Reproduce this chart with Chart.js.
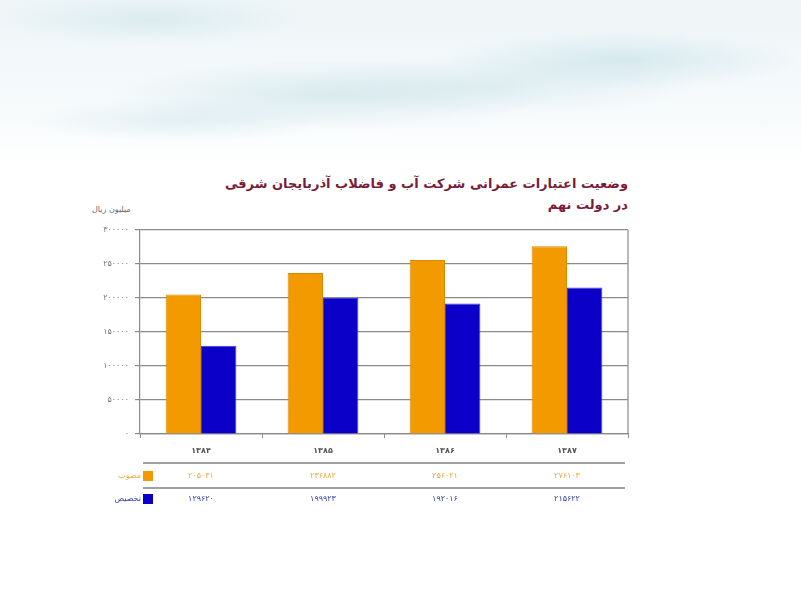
<!DOCTYPE html>
<html>
<head>
<meta charset="utf-8">
<script src="https://cdn.jsdelivr.net/npm/chart.js@4.4.0/dist/chart.umd.min.js"></script>
<style>
  html, body { margin: 0; padding: 0; }
  body {
    width: 801px; height: 600px; position: relative; overflow: hidden;
    font-family: "DejaVu Sans", sans-serif;
    background:
      radial-gradient(ellipse 180px 30px at 620px 60px, rgba(190,220,228,0.55), rgba(255,255,255,0)),
      radial-gradient(ellipse 220px 35px at 330px 95px, rgba(195,222,228,0.55), rgba(255,255,255,0)),
      radial-gradient(ellipse 160px 25px at 150px 20px, rgba(200,225,232,0.5), rgba(255,255,255,0)),
      radial-gradient(ellipse 200px 30px at 500px 85px, rgba(200,225,232,0.45), rgba(255,255,255,0)),
      radial-gradient(ellipse 150px 22px at 180px 120px, rgba(200,225,232,0.45), rgba(255,255,255,0)),
      linear-gradient(to bottom, #eef5f7 0px, #f8fbfc 120px, #ffffff 170px);
  }
  #wrap { position: absolute; left: 0; top: 0; width: 801px; height: 600px; }
  .title {
    position: absolute; right: 173px; top: 173px; direction: rtl; text-align: right;
    color: #7a1c36; font-weight: bold; font-size: 13px; line-height: 21px;
  }
  .unit {
    position: absolute; left: 92px; top: 205px; direction: rtl;
    color: #666; font-size: 8px;
  }
</style>
</head>
<body>
<div class="title">وضعیت اعتبارات عمرانی شرکت آب و فاضلاب آذربایجان شرقی<br>در دولت نهم</div>
<div class="unit">میلیون ریال</div>
<div id="wrap"><canvas id="chart" width="801" height="600"></canvas></div>
<script>
const years = ['1384', '1385', '1386', '1387'];
const approved = [205031, 236882, 256021, 276103];
const allocated = [129620, 199923, 192016, 215622];
const seriesNames = ['مصوب', 'تخصیص'];
const yTicks = [0, 50000, 100000, 150000, 200000, 250000, 300000];

const orange = '#F39A00';
const blue = '#0B00C8';

function toFa(v) {
    return String(v).replace(/[0-9]/g, d => '۰۱۲۳۴۵۶۷۸۹'[d]);
}

// plot frame + data table under the chart
const tablePlugin = {
    id: 'table',
    afterDraw(chart) {
        const ctx = chart.ctx;
        const a = chart.chartArea;
        const x = chart.scales.x;
        ctx.save();
        ctx.strokeStyle = '#8a8a8a';
        ctx.lineWidth = 1.2;
        ctx.beginPath();
        ctx.moveTo(a.right, a.top);
        ctx.lineTo(a.right, a.bottom);
        ctx.stroke();

        ctx.strokeStyle = '#a0a0a0';
        ctx.lineWidth = 2;
        [463, 488].forEach(y => {
            ctx.beginPath();
            ctx.moveTo(a.left + 3, y);
            ctx.lineTo(a.right - 3, y);
            ctx.stroke();
        });

        const rows = [
            { vals: approved, color: orange, text: '#F0A838', y: 476 },
            { vals: allocated, color: blue, text: '#3040A8', y: 499 }
        ];
        ctx.font = '8px "DejaVu Sans"';
        ctx.textBaseline = 'middle';
        rows.forEach((r, i) => {
            ctx.fillStyle = r.color;
            ctx.fillRect(a.left + 3, r.y - 5, 10, 10);
            ctx.fillStyle = r.text;
            ctx.textAlign = 'right';
            ctx.fillText(seriesNames[i], a.left + 1, r.y);
            ctx.textAlign = 'center';
            r.vals.forEach((v, j) => {
                ctx.fillText(toFa(v), x.getPixelForValue(j), r.y);
            });
        });
        ctx.restore();
    }
};

new Chart(document.getElementById('chart'), {
    type: 'bar',
    data: {
        labels: years.map(toFa),
        datasets: [
            { label: seriesNames[0], data: approved, backgroundColor: orange, borderColor: '#D98800', borderWidth: 1 },
            { label: seriesNames[1], data: allocated, backgroundColor: blue, borderColor: '#3A3AE0', borderWidth: 1 }
        ]
    },
    options: {
        responsive: false,
        animation: false,
        layout: { padding: { left: 70, right: 173, top: 230, bottom: 146 } },
        plugins: {
            legend: { display: false },
            tooltip: { enabled: false }
        },
        datasets: {
            bar: { categoryPercentage: 0.58, barPercentage: 1.0 }
        },
        scales: {
            x: {
                afterFit: s => { s.height = 20; },
                grid: { drawOnChartArea: false, drawTicks: true, tickLength: 4, color: '#8a8a8a', offset: true },
                border: { display: true, color: '#8a8a8a', width: 1.2 },
                ticks: { color: '#555', font: { family: 'DejaVu Sans', size: 8, weight: 'bold' }, padding: 8 }
            },
            y: {
                min: 0,
                max: 300000,
                afterFit: s => { s.width = 70; },
                afterBuildTicks: s => { s.ticks = yTicks.map(v => ({ value: v })); },
                grid: { color: '#8a8a8a', lineWidth: 1.2, tickLength: 5 },
                border: { display: true, color: '#8a8a8a', width: 1.2 },
                ticks: {
                    color: '#777',
                    font: { family: 'DejaVu Sans', size: 8 },
                    padding: 6,
                    callback: v => toFa(v)
                }
            }
        }
    },
    plugins: [tablePlugin]
});
</script>
</body>
</html>
